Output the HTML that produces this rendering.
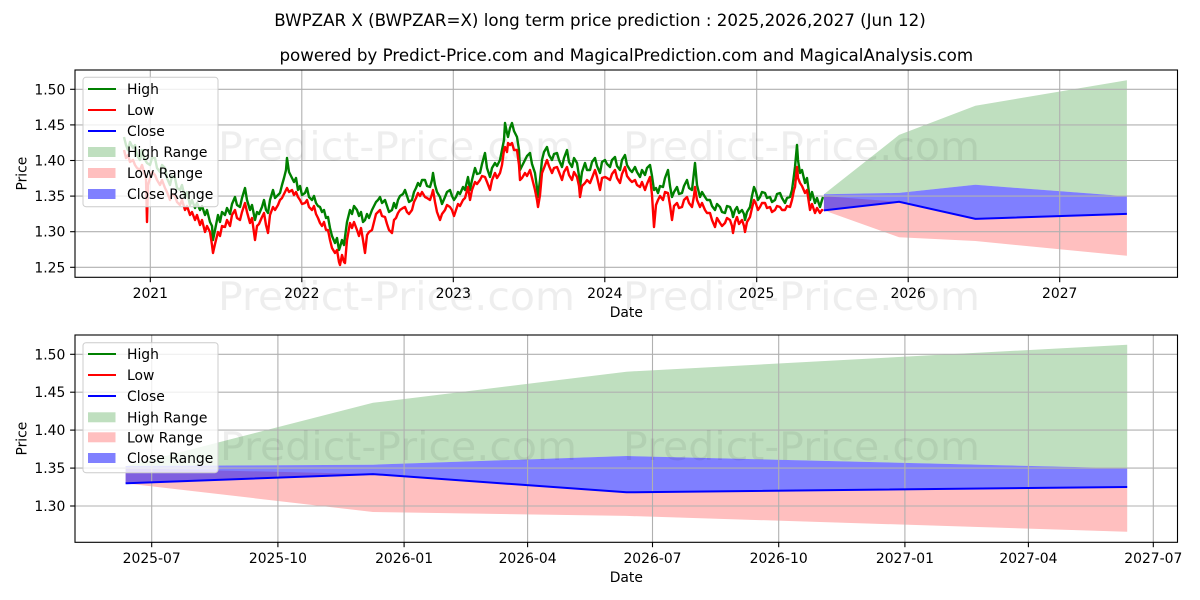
<!DOCTYPE html>
<html><head><meta charset="utf-8"><style>
html,body{margin:0;padding:0;background:#fff;}
svg{display:block;font-family:"DejaVu Sans","Liberation Sans",sans-serif;}
</style></head><body>
<svg width="1200" height="600" viewBox="0 0 1200 600" xmlns="http://www.w3.org/2000/svg">
<defs>
<clipPath id="c1"><rect x="75" y="70" width="1102.5" height="207.3"/></clipPath>
<clipPath id="c2"><rect x="75" y="335" width="1102.5" height="207.3"/></clipPath>
</defs>
<rect width="1200" height="600" fill="#fff"/>
<text x="600" y="26" font-size="16.7" text-anchor="middle" fill="#000">BWPZAR X (BWPZAR=X) long term price prediction : 2025,2026,2027 (Jun 12)</text>
<text x="626.3" y="61" font-size="16.7" text-anchor="middle" fill="#000">powered by Predict-Price.com and MagicalPrediction.com and MagicalAnalysis.com</text>

<!-- ============ TOP AXES ============ -->
<g clip-path="url(#c1)">
<polygon fill="#ffbfbf" points="823.9,196.1 899.1,201.8 975.4,218.9 1126.9,213.9 1126.9,255.8 975.4,241 899.1,237.3 823.9,210.4"/>
<polygon fill="#bfdfbf" points="823.9,194.3 899.1,134.9 975.4,105.7 1126.9,80.3 1126.9,196.3 975.4,184.8 899.1,192.9 823.9,194.2"/>
<polygon fill="#0000ff" fill-opacity="0.5" points="823.9,194.2 899.1,192.9 975.4,184.8 1126.9,196.3 1126.9,213.9 975.4,218.9 899.1,201.8 823.9,210.4"/>
<g stroke="#b0b0b0" stroke-width="1.1">
<line x1="150.3" y1="70" x2="150.3" y2="277.3"/><line x1="301.8" y1="70" x2="301.8" y2="277.3"/><line x1="453.3" y1="70" x2="453.3" y2="277.3"/><line x1="604.8" y1="70" x2="604.8" y2="277.3"/><line x1="756.7" y1="70" x2="756.7" y2="277.3"/><line x1="908.2" y1="70" x2="908.2" y2="277.3"/><line x1="1059.7" y1="70" x2="1059.7" y2="277.3"/>
<line x1="75" y1="89.3" x2="1177.5" y2="89.3"/><line x1="75" y1="124.9" x2="1177.5" y2="124.9"/><line x1="75" y1="160.5" x2="1177.5" y2="160.5"/><line x1="75" y1="196.1" x2="1177.5" y2="196.1"/><line x1="75" y1="231.7" x2="1177.5" y2="231.7"/><line x1="75" y1="267.3" x2="1177.5" y2="267.3"/>
</g>
<g fill="#000" fill-opacity="0.065" font-size="39">
<text x="218" y="160" textLength="357" lengthAdjust="spacingAndGlyphs">Predict-Price.com</text>
<text x="623" y="160" textLength="357" lengthAdjust="spacingAndGlyphs">Predict-Price.com</text>
</g>
<polyline fill="none" stroke="#008000" stroke-width="2.4" stroke-linejoin="round" points="124,137 126,145 128,150 130,142 133,148 135,145 137,155 140,160 142,150 144,158 147,163 150,165 152,158 155,158 157,168 160,172 162,165 165,168 167,178 170,185 172,176 175,178 177,188 180,190 182,185 185,198 187,192 190,205 192,200 195,208 197,203 200,210 202,206 205,215 207,210 210,222 212,226 213,240 215,230 218,215 220,222 222,212 225,215 227,208 230,214 232,204 235,197 237,205 240,207 242,198 245,188 247,200 250,210 252,205 255,220 257,212 259,214 262,207 264,200 266,210 268,213 270,200 273,190 275,198 278,195 280,193 282,185 284,178 286,170 287,158 289,172 292,178 294,182 296,178 298,190 300,186 302,195 305,193 307,188 309,197 312,200 314,196 316,203 318,206 320,207 322,212 324,210 326,218 328,217 330,228 332,236 335,243 337,238 339,250 340,247 342,240 344,245 345,237 347,222 350,210 352,214 354,206 357,210 359,216 361,212 363,222 365,220 367,214 369,218 372,210 374,206 376,202 378,200 380,197 382,203 385,200 387,206 389,212 392,210 394,203 396,208 398,200 400,196 403,194 405,190 407,196 409,202 412,200 414,192 416,188 418,183 420,186 422,180 425,180 427,186 430,187 432,180 433,173 435,185 437,192 440,197 442,204 445,197 447,192 450,190 452,196 454,200 456,197 458,192 460,194 463,187 465,190 468,177 470,190 472,180 475,168 477,174 480,173 482,164 485,153 487,168 490,177 492,168 495,163 497,166 500,160 502,150 504,140 505,123 507,133 508,137 510,128 512,123 514,131 517,137 519,150 520,170 522,166 525,160 527,156 530,153 532,164 535,173 537,188 538,197 540,180 542,160 544,152 547,147 549,155 552,160 554,154 557,153 559,160 562,167 564,158 567,150 569,162 572,167 574,158 577,163 579,176 580,187 582,172 585,163 587,170 590,170 592,162 595,158 597,166 600,173 602,162 605,160 607,164 610,167 612,160 615,157 617,166 620,170 622,160 625,155 627,165 630,170 632,172 635,167 637,172 640,177 642,170 645,175 647,168 650,165 652,176 654,190 656,188 658,193 660,186 663,187 665,178 668,170 670,186 672,197 674,192 677,187 679,194 682,193 684,186 687,180 689,188 692,190 694,172 695,163 697,185 700,197 702,192 705,197 707,200 710,200 712,206 715,210 717,204 720,207 722,212 725,213 727,206 730,207 732,212 733,217 735,210 737,207 739,213 742,210 744,214 745,220 747,212 750,207 752,196 754,187 756,192 758,200 760,197 762,192 765,193 767,198 770,197 772,202 775,200 777,194 780,193 782,198 785,203 787,198 790,197 792,190 794,175 795,167 797,145 798,160 800,173 802,170 805,183 807,178 810,200 812,192 815,203 817,198 820,207 822,200 823,197"/>
<polyline fill="none" stroke="#ff0000" stroke-width="2.4" stroke-linejoin="round" points="124,150 126,158 128,155 130,162 133,160 135,165 137,168 140,170 142,165 144,172 146,178 147,222 148,185 150,178 152,172 155,175 157,180 160,185 162,180 165,188 167,192 170,200 172,194 175,196 177,202 180,205 182,200 185,210 187,206 190,215 192,212 195,220 197,215 200,225 202,220 205,232 207,226 210,232 212,245 213,253 215,244 218,232 220,236 222,226 225,227 227,220 230,226 232,215 235,210 237,218 240,220 242,212 245,203 247,212 250,223 252,218 255,240 257,226 259,224 262,217 264,213 266,225 268,233 270,215 273,207 275,210 278,205 280,200 282,198 284,194 287,188 289,192 292,190 294,195 296,192 298,197 300,200 302,204 305,203 307,200 309,207 312,210 314,206 316,214 318,218 320,223 322,226 324,222 326,230 328,230 330,240 332,248 335,253 337,250 339,262 340,265 342,255 344,262 345,263 347,240 350,223 352,228 354,222 357,230 359,236 361,228 363,240 365,253 367,235 369,232 372,230 374,222 376,214 378,212 380,210 382,216 385,217 387,224 389,230 392,233 394,220 396,218 398,213 400,210 403,208 405,207 407,212 409,214 412,210 414,202 416,198 418,193 420,196 422,192 425,197 427,198 430,200 432,194 433,190 435,202 437,212 440,220 442,214 445,210 447,205 450,207 452,210 454,216 456,210 458,204 460,206 463,200 465,198 468,187 470,200 472,190 475,182 477,184 480,180 482,176 485,177 487,182 490,190 492,180 495,173 497,178 500,173 502,165 504,150 505,147 507,152 508,143 510,145 512,143 514,150 517,150 519,165 520,180 522,178 525,173 527,176 530,170 532,178 535,190 537,200 538,207 540,195 542,173 544,168 547,160 549,166 552,173 554,168 557,167 559,172 562,180 564,172 567,167 569,175 572,180 574,172 577,177 579,186 580,197 582,186 585,183 587,180 590,183 592,178 595,170 597,177 600,190 602,178 605,177 607,178 610,180 612,174 615,170 617,178 620,183 622,174 625,167 627,176 630,180 632,182 635,180 637,185 640,187 642,182 645,190 647,184 650,177 652,195 654,227 656,205 658,200 660,196 663,200 665,192 668,193 670,205 672,220 674,206 677,203 679,208 682,207 684,200 687,197 689,203 692,207 694,196 695,187 697,200 700,207 702,203 705,210 707,213 710,213 712,220 715,227 717,218 720,223 722,226 725,223 727,218 730,220 732,226 733,233 735,222 737,217 739,224 742,220 744,226 745,232 747,222 750,217 752,208 754,200 756,204 758,210 760,207 762,203 765,203 767,208 770,207 772,212 775,210 777,206 780,207 782,210 785,210 787,206 790,207 792,200 794,190 795,187 797,167 798,178 800,183 802,186 805,193 807,190 810,210 812,204 815,213 817,208 820,213 822,210 823,211"/>
<polyline fill="none" stroke="#0000ff" stroke-width="2" points="823.9,210.4 899.1,201.8 975.4,218.9 1126.9,213.9"/>
</g>
<rect x="75" y="70" width="1102.5" height="207.3" fill="none" stroke="#000" stroke-width="1.1"/>
<g stroke="#000" stroke-width="1.1">
<line x1="150.3" y1="277.3" x2="150.3" y2="282.2"/><line x1="301.8" y1="277.3" x2="301.8" y2="282.2"/><line x1="453.3" y1="277.3" x2="453.3" y2="282.2"/><line x1="604.8" y1="277.3" x2="604.8" y2="282.2"/><line x1="756.7" y1="277.3" x2="756.7" y2="282.2"/><line x1="908.2" y1="277.3" x2="908.2" y2="282.2"/><line x1="1059.7" y1="277.3" x2="1059.7" y2="282.2"/>
<line x1="70.1" y1="89.3" x2="75" y2="89.3"/><line x1="70.1" y1="124.9" x2="75" y2="124.9"/><line x1="70.1" y1="160.5" x2="75" y2="160.5"/><line x1="70.1" y1="196.1" x2="75" y2="196.1"/><line x1="70.1" y1="231.7" x2="75" y2="231.7"/><line x1="70.1" y1="267.3" x2="75" y2="267.3"/>
</g>
<g font-size="13.9" fill="#000" text-anchor="middle">
<text x="150.3" y="298">2021</text><text x="301.8" y="298">2022</text><text x="453.3" y="298">2023</text><text x="604.8" y="298">2024</text><text x="756.7" y="298">2025</text><text x="908.2" y="298">2026</text><text x="1059.7" y="298">2027</text>
<text x="626.3" y="317">Date</text>
</g>
<g font-size="13.9" fill="#000" text-anchor="end">
<text x="65.3" y="94.3">1.50</text><text x="65.3" y="129.9">1.45</text><text x="65.3" y="165.5">1.40</text><text x="65.3" y="201.1">1.35</text><text x="65.3" y="236.7">1.30</text><text x="65.3" y="272.3">1.25</text>
</g>
<text transform="translate(26.5,173.6) rotate(-90)" font-size="13.9" text-anchor="middle" fill="#000">Price</text>
<g fill="#000" fill-opacity="0.065" font-size="39">
<text x="218" y="310" textLength="357" lengthAdjust="spacingAndGlyphs">Predict-Price.com</text>
<text x="623" y="310" textLength="357" lengthAdjust="spacingAndGlyphs">Predict-Price.com</text>
</g>
<!-- legend top -->
<rect x="83" y="77.3" width="135" height="129.4" rx="3" fill="#fff" fill-opacity="0.8" stroke="#cccccc" stroke-width="1"/>
<g stroke-width="2">
<line x1="88" y1="89" x2="116" y2="89" stroke="#008000"/>
<line x1="88" y1="110" x2="116" y2="110" stroke="#ff0000"/>
<line x1="88" y1="131" x2="116" y2="131" stroke="#0000ff"/>
</g>
<rect x="88" y="147" width="27.5" height="10" fill="#bfdfbf"/>
<rect x="88" y="168" width="27.5" height="10" fill="#ffbfbf"/>
<rect x="88" y="189" width="27.5" height="10" fill="#8080ff"/>
<g font-size="13.9" fill="#000">
<text x="127" y="94">High</text><text x="127" y="115">Low</text><text x="127" y="136">Close</text><text x="127" y="157">High Range</text><text x="127" y="178">Low Range</text><text x="127" y="199">Close Range</text>
</g>

<!-- ============ BOTTOM AXES ============ -->
<g clip-path="url(#c2)">
<polygon fill="#ffbfbf" points="125.6,468.3 373,474.1 626.4,492.3 1127.2,487 1127.2,531.7 626.4,515.9 373,512 125.6,483.3"/>
<polygon fill="#bfdfbf" points="125.6,466.2 373,402.8 626.4,371.7 1127.2,344.7 1127.2,468.3 626.4,456 373,464.7 125.6,466"/>
<polygon fill="#0000ff" fill-opacity="0.5" points="125.6,466 373,464.7 626.4,456 1127.2,468.3 1127.2,487 626.4,492.3 373,474.1 125.6,483.3"/>
<g stroke="#b0b0b0" stroke-width="1.1">
<line x1="151.7" y1="335" x2="151.7" y2="542.3"/><line x1="277.9" y1="335" x2="277.9" y2="542.3"/><line x1="404.1" y1="335" x2="404.1" y2="542.3"/><line x1="527.6" y1="335" x2="527.6" y2="542.3"/><line x1="652.5" y1="335" x2="652.5" y2="542.3"/><line x1="778.7" y1="335" x2="778.7" y2="542.3"/><line x1="904.9" y1="335" x2="904.9" y2="542.3"/><line x1="1028.4" y1="335" x2="1028.4" y2="542.3"/><line x1="1153.3" y1="335" x2="1153.3" y2="542.3"/>
<line x1="75" y1="354.3" x2="1177.5" y2="354.3"/><line x1="75" y1="392.2" x2="1177.5" y2="392.2"/><line x1="75" y1="430.1" x2="1177.5" y2="430.1"/><line x1="75" y1="468.1" x2="1177.5" y2="468.1"/><line x1="75" y1="506" x2="1177.5" y2="506"/>
</g>
<g fill="#000" fill-opacity="0.065" font-size="39">
<text x="220" y="460" textLength="357" lengthAdjust="spacingAndGlyphs">Predict-Price.com</text>
<text x="623" y="460" textLength="357" lengthAdjust="spacingAndGlyphs">Predict-Price.com</text>
</g>
<polyline fill="none" stroke="#0000ff" stroke-width="2" points="125.6,483.3 373,474.1 626.4,492.3 1127.2,487"/>
</g>
<rect x="75" y="335" width="1102.5" height="207.3" fill="none" stroke="#000" stroke-width="1.1"/>
<g stroke="#000" stroke-width="1.1">
<line x1="151.7" y1="542.3" x2="151.7" y2="547.2"/><line x1="277.9" y1="542.3" x2="277.9" y2="547.2"/><line x1="404.1" y1="542.3" x2="404.1" y2="547.2"/><line x1="527.6" y1="542.3" x2="527.6" y2="547.2"/><line x1="652.5" y1="542.3" x2="652.5" y2="547.2"/><line x1="778.7" y1="542.3" x2="778.7" y2="547.2"/><line x1="904.9" y1="542.3" x2="904.9" y2="547.2"/><line x1="1028.4" y1="542.3" x2="1028.4" y2="547.2"/><line x1="1153.3" y1="542.3" x2="1153.3" y2="547.2"/>
<line x1="70.1" y1="354.3" x2="75" y2="354.3"/><line x1="70.1" y1="392.2" x2="75" y2="392.2"/><line x1="70.1" y1="430.1" x2="75" y2="430.1"/><line x1="70.1" y1="468.1" x2="75" y2="468.1"/><line x1="70.1" y1="506" x2="75" y2="506"/>
</g>
<g font-size="13.9" fill="#000" text-anchor="middle">
<text x="151.7" y="563">2025-07</text><text x="277.9" y="563">2025-10</text><text x="404.1" y="563">2026-01</text><text x="527.6" y="563">2026-04</text><text x="652.5" y="563">2026-07</text><text x="778.7" y="563">2026-10</text><text x="904.9" y="563">2027-01</text><text x="1028.4" y="563">2027-04</text><text x="1153.3" y="563">2027-07</text>
<text x="626.3" y="582">Date</text>
</g>
<g font-size="13.9" fill="#000" text-anchor="end">
<text x="65.3" y="359.3">1.50</text><text x="65.3" y="397.2">1.45</text><text x="65.3" y="435.1">1.40</text><text x="65.3" y="473.1">1.35</text><text x="65.3" y="511">1.30</text>
</g>
<text transform="translate(26.5,438.6) rotate(-90)" font-size="13.9" text-anchor="middle" fill="#000">Price</text>
<!-- legend bottom -->
<rect x="83" y="342.7" width="135" height="130" rx="3" fill="#fff" fill-opacity="0.8" stroke="#cccccc" stroke-width="1"/>
<g stroke-width="2">
<line x1="88" y1="354" x2="116" y2="354" stroke="#008000"/>
<line x1="88" y1="375" x2="116" y2="375" stroke="#ff0000"/>
<line x1="88" y1="396" x2="116" y2="396" stroke="#0000ff"/>
</g>
<rect x="88" y="412.3" width="27.5" height="10" fill="#bfdfbf"/>
<rect x="88" y="432.3" width="27.5" height="10" fill="#ffbfbf"/>
<rect x="88" y="453" width="27.5" height="10" fill="#8080ff"/>
<g font-size="13.9" fill="#000">
<text x="127" y="359">High</text><text x="127" y="380">Low</text><text x="127" y="401">Close</text><text x="127" y="422.3">High Range</text><text x="127" y="442.3">Low Range</text><text x="127" y="463">Close Range</text>
</g>
</svg>
</body></html>
